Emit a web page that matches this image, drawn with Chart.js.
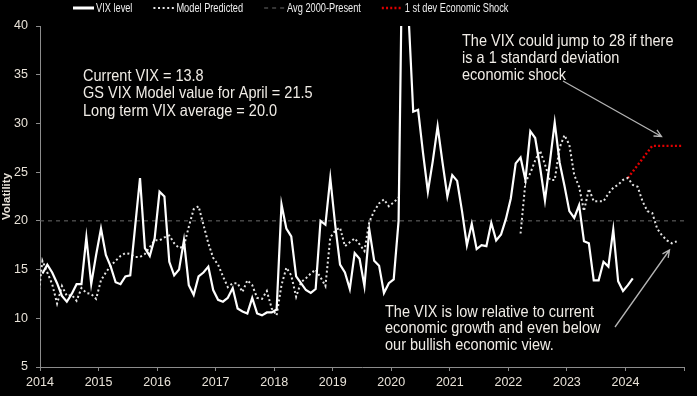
<!DOCTYPE html>
<html>
<head>
<meta charset="utf-8">
<script src="https://cdn.jsdelivr.net/npm/chart.js@4.4.1/dist/chart.umd.min.js"></script>
<style>
  html, body { margin: 0; padding: 0; background: #000; }
  #wrap { width: 697px; height: 396px; }
</style>
</head>
<body>
<div id="wrap"><canvas id="vixChart"></canvas></div>
<script>
// monthly VIX level, starting Jan 2014
const vixStart = "2014-01";
const vixLevel = [
  14.6, 15.5, 14.7, 13.6, 12.3, 11.7, 12.5, 13.5, 13.5, 18.3, 13.5, 16.5,
  19.2, 16.5, 15.3, 13.7, 13.5, 14.3, 14.4, 19.4, 24.4, 17.2, 16.4, 18.2,
  23.0, 22.5, 15.8, 14.4, 15.0, 18.0, 13.4, 12.4, 14.3, 14.7, 15.3, 12.9,
  11.9, 11.7, 12.1, 13.1, 11.0, 10.7, 10.5, 12.1, 10.5, 10.3, 10.6, 10.6,
  10.9, 21.7, 19.2, 18.4, 14.3, 13.6, 12.9, 12.6, 13.0, 20.0, 19.6, 24.4,
  19.6, 15.5, 14.7, 13.0, 16.7, 16.1, 13.3, 19.1, 15.9, 15.4, 12.6, 13.6,
  14.0, 20.0, 57.7, 41.5, 31.2, 31.4, 27.0, 23.0, 26.1, 29.7, 26.0, 22.5,
  24.7, 24.1, 21.0, 17.5, 19.7, 17.1, 17.5, 17.4, 19.8, 18.0, 18.6, 20.2,
  22.3, 25.9, 26.5, 24.2, 29.2, 28.5, 25.5, 22.1, 26.0, 30.1, 26.0, 23.6,
  21.0, 20.3, 21.6, 17.9, 17.7, 13.9, 13.9, 15.8, 15.3, 19.1, 13.8, 12.8,
  13.4, 14.1
];

// GS model prediction, starting Dec 2013 (gap Mar 2020 - Feb 2022)
const modelStart = "2013-12";
const modelPredicted = [
  11.5,
  15.9, 14.7, 13.5, 11.5, 13.3, 12.3, 12.4, 11.8, 13.1, 12.6, 12.5, 12.0,
  13.9, 14.7, 15.4, 15.9, 16.4, 16.7, 16.6, 16.3, 16.3, 16.6, 17.3, 18.0,
  18.0, 18.3, 18.5, 17.7, 17.2, 17.4, 19.4, 21.2, 21.5, 19.6, 17.7, 16.2,
  15.5, 14.3, 13.2, 13.6, 13.6, 12.7, 13.9, 13.4, 12.1, 12.0, 12.8, 11.0,
  10.3, 13.4, 15.2, 14.4, 12.2, 13.7, 14.1, 14.6, 15.0, 14.2, 13.3, 18.3,
  19.0, 19.3, 17.4, 17.8, 18.2, 17.6, 16.9, 19.9, 21.0, 21.8, 22.2, 21.5,
  21.9, 22.4, null, null, null, null, null, null, null, null, null, null,
  null, null, null, null, null, null, null, null, null, null, null, null,
  null, null, 18.7, 24.0, 24.9, 26.2, 27.2, 25.8, 24.2, 24.2, 27.5, 28.8,
  27.8, 24.7, 23.5, 21.0, 23.3, 22.0, 22.0, 22.0, 22.8, 23.4, 23.7, 24.2,
  24.4, 23.7, 23.5, 22.0, 21.0, 20.8, 19.2, 18.5, 18.0, 17.7, 17.9
];

const avgLevel = 20.0;

const shockMonths = ["2024-01", "2024-06", "2024-12"];
const shockLevel = [24.4, 27.7, 27.7];

const yearMin = 2014;
const yearMax = 2025;

const textLeft = ["Current VIX = 13.8", "GS VIX Model value for April = 21.5", "Long term VIX average = 20.0"];
const textShock = ["The VIX could jump to 28 if there", "is a 1 standard deviation", "economic shock"];
const textLow = ["The VIX is low relative to current", "economic growth and even below", "our bullish economic view."];

const FONT = '"Liberation Sans", Arial, sans-serif';
const TEXT_COLOR = "#f0ece6";
const AXIS_COLOR = "#8c8c8c";

// "2014-03" -> 2014 + middle of March
function monthToYear(m) {
  const [y, mo] = m.split("-").map(Number);
  return y + (mo - 0.5) / 12;
}
function seriesFrom(start, values) {
  const base = monthToYear(start);
  return values.map((v, i) => ({ x: base + i / 12, y: v }));
}

function drawText(ctx, text, x, y, size, sx, color) {
  ctx.save();
  ctx.font = size + "px " + FONT;
  ctx.fillStyle = color;
  ctx.textBaseline = "middle";
  ctx.textAlign = "left";
  ctx.translate(x, y);
  ctx.scale(sx, 1);
  ctx.fillText(text, 0, 0);
  const w = ctx.measureText(text).width * sx;
  ctx.restore();
  return w;
}

function drawArrow(ctx, x1, y1, x2, y2) {
  const a = Math.atan2(y2 - y1, x2 - x1);
  const h = 8;
  ctx.save();
  ctx.strokeStyle = "#b4b4b4";
  ctx.lineWidth = 1.3;
  ctx.beginPath();
  ctx.moveTo(x1, y1);
  ctx.lineTo(x2, y2);
  ctx.moveTo(x2 - h * Math.cos(a - 0.45), y2 - h * Math.sin(a - 0.45));
  ctx.lineTo(x2, y2);
  ctx.lineTo(x2 - h * Math.cos(a + 0.45), y2 - h * Math.sin(a + 0.45));
  ctx.stroke();
  ctx.restore();
}

const topLegend = {
  id: "topLegend",
  afterDraw(chart) {
    const ctx = chart.ctx;
    const y = 8;
    let x = 73;
    chart.data.datasets.forEach(ds => {
      ctx.save();
      ctx.strokeStyle = ds.borderColor;
      ctx.lineWidth = ds.legendWidth || ds.borderWidth;
      ctx.setLineDash(ds.borderDash || []);
      ctx.beginPath();
      ctx.moveTo(x, y);
      ctx.lineTo(x + 21, y);
      ctx.stroke();
      ctx.restore();
      x += 23;
      x += drawText(ctx, ds.label, x, y, 13, 0.71, "#eeeeee") + 21;
    });
  }
};

const notes = {
  id: "notes",
  afterDraw(chart) {
    const ctx = chart.ctx;
    textLeft.forEach((t, i) => drawText(ctx, t, 83, 76 + i * 17.5, 16.5, 0.88, TEXT_COLOR));
    textShock.forEach((t, i) => drawText(ctx, t, 462, 41 + i * 17, 16.5, 0.88, TEXT_COLOR));
    textLow.forEach((t, i) => drawText(ctx, t, 385, 312 + i * 16.7, 16.5, 0.88, TEXT_COLOR));
    drawArrow(ctx, 563, 81, 661.5, 136.5);
    drawArrow(ctx, 615, 327, 669.5, 250);
  }
};

new Chart(document.getElementById("vixChart"), {
  type: "line",
  data: {
    datasets: [
      {
        label: "VIX level",
        data: seriesFrom(vixStart, vixLevel),
        borderColor: "#ffffff",
        borderWidth: 2.2,
        legendWidth: 3
      },
      {
        label: "Model Predicted",
        data: seriesFrom(modelStart, modelPredicted),
        borderColor: "#e4e4e4",
        borderWidth: 2,
        borderDash: [2, 2.6],
        spanGaps: false
      },
      {
        label: "Avg 2000-Present",
        data: [{ x: yearMin, y: avgLevel }, { x: yearMax, y: avgLevel }],
        borderColor: "#6a6a6a",
        borderWidth: 1,
        borderDash: [4, 4]
      },
      {
        label: "1 st dev Economic Shock",
        data: shockMonths.map((m, i) => ({ x: monthToYear(m), y: shockLevel[i] })),
        borderColor: "#e00000",
        borderWidth: 2.4,
        borderDash: [2, 2.2]
      }
    ]
  },
  options: {
    responsive: true,
    maintainAspectRatio: false,
    animation: false,
    elements: { point: { radius: 0 }, line: { tension: 0 } },
    layout: { padding: { top: 26, right: 13, left: 0, bottom: 0 } },
    plugins: {
      legend: { display: false },
      tooltip: { enabled: false }
    },
    scales: {
      x: {
        type: "linear",
        min: yearMin,
        max: yearMax,
        ticks: {
          stepSize: 1,
          autoSkip: false,
          maxRotation: 0,
          padding: 4,
          color: "#e8e2d8",
          font: { family: FONT, size: 12.5 },
          callback: v => (v < yearMax ? String(v) : "")
        },
        grid: { drawOnChartArea: false, tickLength: 4, color: AXIS_COLOR },
        border: { color: AXIS_COLOR, width: 1 },
        afterFit: s => { s.height = 29; }
      },
      y: {
        min: 5,
        max: 40,
        ticks: {
          stepSize: 5,
          padding: 8,
          color: "#e8e2d8",
          font: { family: FONT, size: 12.5 }
        },
        grid: { drawOnChartArea: false, tickLength: 4, color: AXIS_COLOR },
        border: { color: AXIS_COLOR, width: 1 },
        title: {
          display: true,
          text: "Volatility",
          color: "#e8e2d8",
          padding: 0,
          font: { family: FONT, size: 11.5, weight: "bold" }
        },
        afterFit: s => { s.width = 40; }
      }
    }
  },
  plugins: [topLegend, notes]
});
</script>
</body>
</html>
